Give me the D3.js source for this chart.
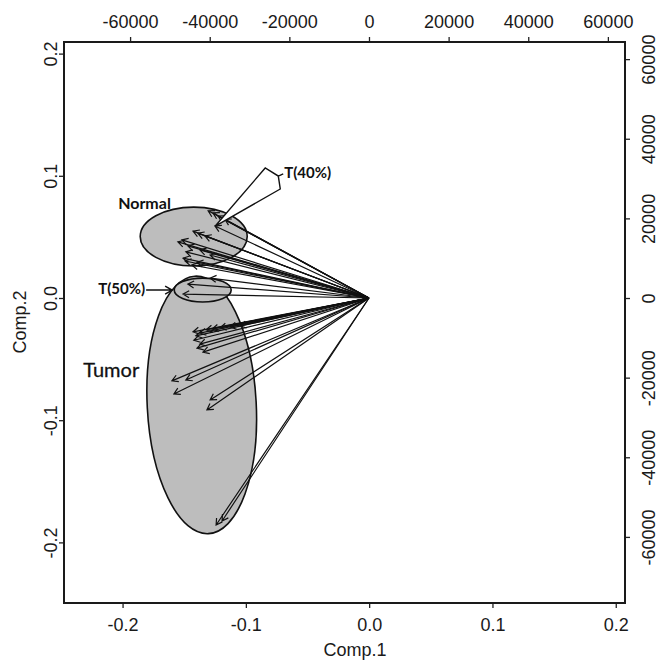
<!DOCTYPE html>
<html>
<head>
<meta charset="utf-8">
<script src="https://cdn.jsdelivr.net/npm/d3@7/dist/d3.min.js"></script>
<style>
  body { margin: 0; background: #fff; }
  svg text { font-family: "Liberation Sans", Arial, sans-serif; fill: #1a1a1a; }
  svg text.ann { font-family: Lato, "Open Sans", sans-serif; font-weight: bold; fill: #111; }
</style>
</head>
<body>
<svg id="biplot" width="659" height="667"></svg>
<script>
// loadings of each sample (Comp.1, Comp.2)
var normalComp1 = [-40400, -39200, -37900, -36200, -38700, -44200, -43000, -41200, -48000, -47000,
                   -45500, -46000, -46700, -46200, -44500, -43200, -42500, -39900];
var normalComp2 = [21900, 21400, 20600, 19800, 18100, 16800, 16300, 15600, 14100, 14600,
                   13100, 11600, 10000, 9300, 8300, 9000, 12100, 10800];
var t50Comp1 = [-45500, -46700, -39900];
var t50Comp2 = [3500, 1000, 5000];
var tumorComp1 = [-44200, -43500, -44000, -42500, -43200, -41700, -40900, -39400, -37400, -34900,
                  -32400, -42500, -49500, -46000, -49000, -39900, -40700, -38400, -36900];
var tumorComp2 = [-8500, -9500, -10600, -11600, -12600, -13600, -8000, -7800, -7500, -7300,
                  -7000, -8800, -20800, -20600, -24100, -25600, -28100, -57000, -56000];

var scoreTicks = [-0.2, -0.1, 0.0, 0.1, 0.2];
var loadTicks = [-60000, -40000, -20000, 0, 20000, 40000, 60000];

// group regions drawn on the biplot (score units)
var regionNames = ["Tumor", "T(50%)", "Normal"];
var regionCx = [-0.1358, -0.1350, -0.1423];
var regionCy = [-0.0875, 0.0065, 0.0503];
var regionRx = [0.0442, 0.0231, 0.0434];
var regionRy = [0.1055, 0.0098, 0.0241];
var regionTilt = [-3, 0, 0];

// T(40%) callout wedge (score units)
var calloutX = [-0.1248, -0.0843, -0.0737, -0.0721];
var calloutY = [0.0589, 0.1064, 0.0998, 0.0892];

function buildBiplot(opts) {
  var svg = d3.select('#' + opts.svgID),
      margin = {top: 42, right: 34, bottom: 64, left: 64};
  var width = opts.w - margin.left - margin.right;
  var height = opts.h - margin.top - margin.bottom;
  var canvas = svg.append("g").attr("transform", "translate(" + margin.left + "," + margin.top + ")");

  var x = d3.scaleLinear().domain([-0.2475, 0.2075]).range([0, width]);
  var y = d3.scaleLinear().domain([-0.2496, 0.2095]).range([height, 0]);
  var x2 = d3.scaleLinear().domain([-76600, 64300]).range([0, width]);
  var y2 = d3.scaleLinear().domain([-76600, 64300]).range([height, 0]);

  // R style labels use a plain hyphen for the minus
  var fmt = function(d) { return d3.format(".1f")(d).replace("\u2212", "-"); };
  var fmtLoad = function(d) { return d3.format("d")(d).replace("\u2212", "-"); };

  // regions
  regionNames.forEach(function(n, i) {
    canvas.append("ellipse")
      .attr("transform", "translate(" + x(regionCx[i]) + "," + y(regionCy[i]) + ") rotate(" + regionTilt[i] + ")")
      .attr("rx", x(regionRx[i]) - x(0))
      .attr("ry", y(0) - y(regionRy[i]))
      .attr("fill", "#bdbdbd")
      .attr("stroke", "#111")
      .attr("stroke-width", 1.6);
  });

  // arrows
  var arrows = [];
  normalComp1.forEach(function(v, i) { arrows.push([v, normalComp2[i]]); });
  t50Comp1.forEach(function(v, i) { arrows.push([v, t50Comp2[i]]); });
  tumorComp1.forEach(function(v, i) { arrows.push([v, tumorComp2[i]]); });

  var ox = x2(0), oy = y2(0), head = 7, spread = Math.PI / 6;
  canvas.selectAll(".arrow")
      .data(arrows)
    .enter().append("path")
      .attr("class", "arrow")
      .attr("fill", "none")
      .attr("stroke", "#111")
      .attr("stroke-width", 1.2)
      .attr("d", function(d) {
        var tx = x2(d[0]), ty = y2(d[1]);
        var a = Math.atan2(ty - oy, tx - ox);
        return "M" + ox + "," + oy + "L" + tx + "," + ty +
          "M" + (tx - head * Math.cos(a - spread)) + "," + (ty - head * Math.sin(a - spread)) +
          "L" + tx + "," + ty +
          "L" + (tx - head * Math.cos(a + spread)) + "," + (ty - head * Math.sin(a + spread));
      });

  // T(40%) callout
  var pts = calloutX.map(function(v, i) { return [x(v), y(calloutY[i])]; });
  canvas.append("path")
    .attr("d", "M" + pts.join("L") + "Z" + "M" + pts[2] + "L" + x(-0.0697) + "," + y(0.1015))
    .attr("fill", "#fff")
    .attr("stroke", "#111")
    .attr("stroke-width", 1.4);
  canvas.append("text").attr("class", "ann")
    .attr("x", x(-0.0689)).attr("y", y(0.0982))
    .style("font-size", "15px").text("T(40%)");

  // T(50%) pointer
  var px0 = x(-0.1809), px1 = x(-0.1598), py = y(0.0065);
  canvas.append("path")
    .attr("d", "M" + px0 + "," + py + "L" + px1 + "," + py +
      "M" + (px1 - 7) + "," + (py - 4) + "L" + px1 + "," + py + "L" + (px1 - 7) + "," + (py + 4))
    .attr("fill", "none").attr("stroke", "#111").attr("stroke-width", 1.4);
  canvas.append("text").attr("class", "ann")
    .attr("x", x(-0.1817)).attr("y", y(0.0033))
    .attr("text-anchor", "end")
    .style("font-size", "15px").text("T(50%)");

  canvas.append("text").attr("class", "ann")
    .attr("x", x(-0.2036)).attr("y", y(0.0728))
    .style("font-size", "16px").text("Normal");

  canvas.append("text").attr("class", "ann")
    .attr("x", x(-0.2319)).attr("y", y(-0.0646))
    .style("font-size", "20px").style("font-weight", "normal")
    .attr("stroke", "#111").attr("stroke-width", 0.3)
    .text("Tumor");

  // axes
  var bottom = canvas.append("g").attr("transform", "translate(0," + height + ")")
    .call(d3.axisBottom(x).tickValues(scoreTicks).tickFormat(fmt).tickSize(5).tickPadding(10));
  var left = canvas.append("g")
    .call(d3.axisLeft(y).tickValues(scoreTicks).tickFormat(fmt).tickSize(5));
  var top = canvas.append("g")
    .call(d3.axisTop(x2).tickValues(loadTicks).tickFormat(fmtLoad).tickSize(5).tickPadding(9));
  var right = canvas.append("g").attr("transform", "translate(" + width + ",0)")
    .call(d3.axisRight(y2).tickValues(loadTicks).tickFormat(fmtLoad).tickSize(5));

  [bottom, left, top, right].forEach(function(g) {
    g.select(".domain").remove();
    g.selectAll("line").attr("stroke", "#222").attr("stroke-width", 1.3);
    g.selectAll("text").style("font-size", "18px").attr("fill", "#1a1a1a");
  });
  left.selectAll("text")
    .attr("transform", "rotate(-90)")
    .attr("x", 0).attr("y", -7).attr("dy", 0)
    .attr("text-anchor", "middle");
  right.selectAll("text")
    .attr("transform", "rotate(-90)")
    .attr("x", 0).attr("y", 30).attr("dy", 0)
    .attr("text-anchor", "middle");

  canvas.append("rect")
    .attr("width", width).attr("height", height)
    .attr("fill", "none").attr("stroke", "#1a1a1a").attr("stroke-width", 2);

  svg.append("text")
    .attr("x", 355).attr("y", 656)
    .attr("text-anchor", "middle")
    .style("font-size", "18px").text("Comp.1");
  svg.append("text")
    .attr("transform", "translate(26,322) rotate(-90)")
    .attr("text-anchor", "middle")
    .style("font-size", "18px").text("Comp.2");
}

buildBiplot({svgID: "biplot", w: 659, h: 667});
</script>
</body>
</html>
